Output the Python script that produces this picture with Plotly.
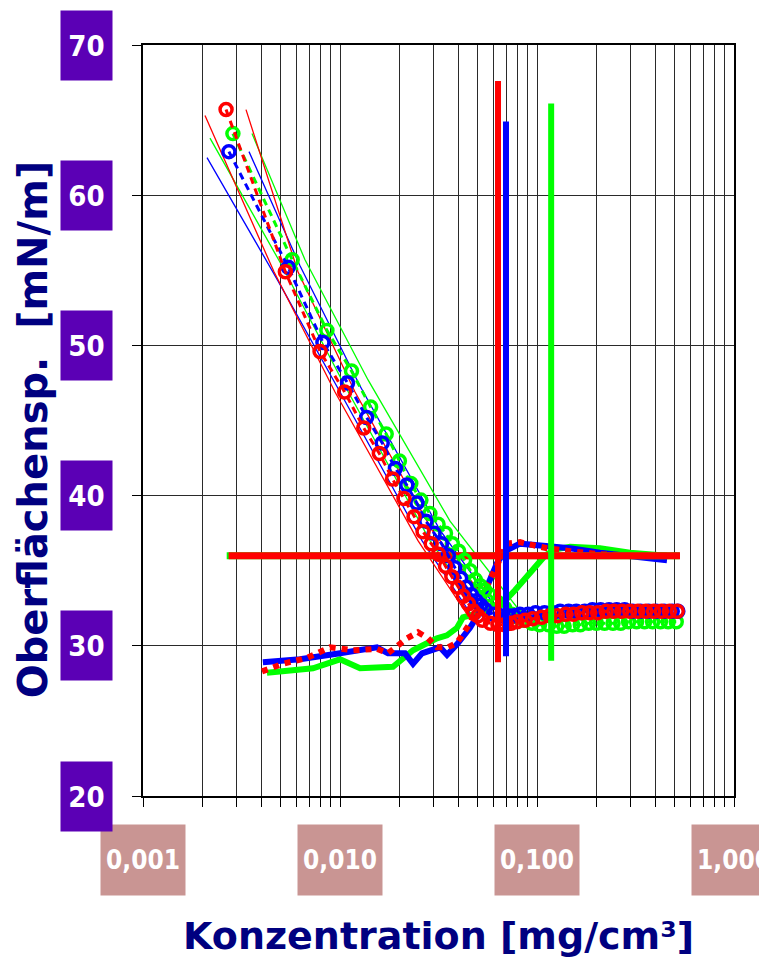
import numpy as np
import plotly.graph_objects as go

# Achsen / Beschriftung
x_ticks = [0.001, 0.01, 0.1, 1.0]
x_tick_text = ["0,001", "0,010", "0,100", "1,000"]
y_ticks = [20, 30, 40, 50, 60, 70]

# Oberflächenspannung (Kreise, gestrichelt verbunden)
c_red = [0.00264, 0.00528, 0.00792, 0.01056, 0.0132, 0.01584, 0.01848, 0.02112, 0.02376, 0.0264,
         0.02904, 0.03168, 0.03432, 0.03696, 0.0396, 0.04224, 0.04488, 0.04752, 0.05016, 0.0528,
         0.05808, 0.06336, 0.06864, 0.07392, 0.0792,
         0.08712, 0.09504, 0.1056, 0.1162, 0.1267, 0.1399, 0.1531, 0.169, 0.1848, 0.2033,
         0.2244, 0.2455, 0.2693, 0.2957, 0.3247, 0.3564, 0.3907, 0.4277, 0.4699, 0.5148]
s_red = [65.7, 54.9, 49.6, 46.9, 44.5, 42.8, 41.1, 39.8, 38.6, 37.6,
         36.8, 36.1, 35.3, 34.6, 33.9, 33.3, 32.8, 32.3, 32.0, 31.7,
         31.5, 31.4, 31.4, 31.5, 31.6,
         31.7, 31.8, 31.9, 32.0, 32.0, 32.1, 32.1, 32.2, 32.2, 32.2,
         32.3, 32.3, 32.3, 32.3, 32.3, 32.3, 32.3, 32.3, 32.3, 32.3]

c_green = [0.00286, 0.00572, 0.00858, 0.01144, 0.0143, 0.01716, 0.02002, 0.02288, 0.02574, 0.0286,
           0.03146, 0.03432, 0.03718, 0.04004, 0.0429, 0.04576, 0.04862, 0.05148, 0.05434, 0.0572,
           0.06292, 0.06864, 0.07436, 0.08008, 0.0858,
           0.09438, 0.103, 0.1144, 0.1258, 0.1373, 0.1516, 0.1659, 0.183, 0.2002, 0.2202,
           0.2431, 0.266, 0.2917, 0.3203, 0.3518, 0.3861, 0.4233, 0.4633, 0.5091]
s_green = [64.1, 55.7, 51.0, 48.3, 45.9, 44.1, 42.3, 40.8, 39.7, 38.8,
           38.1, 37.5, 36.8, 36.3, 35.7, 35.0, 34.4, 34.0, 33.7, 33.4,
           32.9, 32.5, 32.1, 31.9, 31.7,
           31.5, 31.4, 31.4, 31.3, 31.3, 31.4, 31.4, 31.5, 31.5, 31.5,
           31.5, 31.5, 31.6, 31.6, 31.6, 31.6, 31.6, 31.6, 31.6]

c_blue = [0.00273, 0.00546, 0.00819, 0.01092, 0.01365, 0.01638, 0.01911, 0.02184, 0.02457, 0.0273,
          0.03003, 0.03276, 0.03549, 0.03822, 0.04095, 0.04368, 0.04641, 0.04914, 0.05187, 0.0546,
          0.06006, 0.06552, 0.07098, 0.07644, 0.0819,
          0.09009, 0.09828, 0.1092, 0.1201, 0.131, 0.1447, 0.1583, 0.1747, 0.1911, 0.2102,
          0.2321, 0.2539, 0.2785, 0.3058, 0.3358, 0.3686, 0.404, 0.4423, 0.4859, 0.5187]
s_blue = [62.9, 55.2, 50.2, 47.5, 45.2, 43.5, 41.8, 40.7, 39.5, 38.3,
          37.5, 36.8, 36.0, 35.2, 34.5, 33.9, 33.4, 33.0, 32.7, 32.4,
          32.1, 32.0, 32.0, 32.0, 32.1,
          32.1, 32.2, 32.2, 32.2, 32.3, 32.3, 32.3, 32.3, 32.4, 32.4,
          32.4, 32.4, 32.4, 32.3, 32.3, 32.3, 32.3, 32.3, 32.3, 32.3]

# zweite Messreihe (dicke Linien)
c2_blue = [0.00406, 0.006266, 0.0100, 0.01541, 0.01752, 0.02137, 0.02348, 0.02607, 0.03218, 0.03492,
           0.03926, 0.0457, 0.05138, 0.05641, 0.06266, 0.0688, 0.08197, 0.1073, 0.1471, 0.2088,
           0.2966, 0.457]
s2_blue = [28.9, 29.1, 29.5, 29.9, 29.5, 29.5, 28.8, 29.5, 29.9, 29.4,
           30.1, 31.2, 32.3, 34.1, 35.5, 36.3, 36.8, 36.7, 36.5, 36.2,
           36.0, 35.7]

c2_red = [0.004019, 0.005138, 0.0068, 0.008896, 0.01164, 0.01541, 0.01752, 0.0197, 0.02188, 0.02488,
          0.02797, 0.03107, 0.03535, 0.03926, 0.0457, 0.05138, 0.05773, 0.06339, 0.07042, 0.08197,
          0.0954, 0.1124, 0.1471, 0.2088, 0.3333, 0.5138]
s2_red = [28.3, 28.8, 29.2, 29.9, 29.7, 29.8, 29.5, 30.0, 30.5, 30.9,
          30.5, 29.9, 29.9, 30.2, 31.5, 33.0, 34.5, 35.5, 36.8, 36.9,
          36.7, 36.5, 36.3, 36.1, 36.0, 36.0]

c2_green = [0.004259, 0.007293, 0.0100, 0.01264, 0.01858, 0.02089, 0.02348, 0.027, 0.03107, 0.03492,
            0.03926, 0.0421, 0.05138, 0.06118, 0.0688, 0.07731, 0.08694, 0.09768, 0.1098, 0.1234,
            0.1471, 0.2088, 0.2966, 0.457]
s2_green = [28.2, 28.5, 29.1, 28.5, 28.6, 29.2, 29.7, 30.1, 30.5, 30.7,
            31.2, 31.9, 32.2, 32.7, 33.0, 33.7, 34.5, 35.3, 36.0, 36.4,
            36.6, 36.5, 36.2, 36.0]

# Vertrauensbänder (dünne Linien)
band_red_lo_c = [0.002064, 0.004623, 0.009433, 0.02488, 0.04465]
band_red_lo_s = [65.3, 54.9, 46.9, 37.0, 32.0]
band_red_hi_c = [0.003333, 0.006119, 0.01192, 0.0293, 0.05773]
band_red_hi_s = [65.7, 54.9, 46.9, 37.7, 32.7]
band_green_lo_c = [0.002188, 0.005077, 0.0106, 0.02862, 0.05138]
band_green_lo_s = [63.8, 55.3, 47.3, 37.0, 32.2]
band_green_hi_c = [0.003575, 0.006642, 0.01388, 0.03618, 0.08197]
band_green_hi_s = [64.1, 55.7, 47.7, 38.3, 32.3]
band_blue_lo_c = [0.002113, 0.004845, 0.0100, 0.02607, 0.04679]
band_blue_lo_s = [62.5, 54.3, 46.9, 37.0, 32.0]
band_blue_hi_c = [0.003452, 0.006266, 0.01264, 0.03218, 0.06492]
band_blue_hi_s = [62.9, 55.3, 47.3, 37.7, 32.2]

# CMC-Markierungen
cmc_red, cmc_red_s = 0.0634, [28.9, 67.6]
cmc_blue, cmc_blue_s = 0.0696, [29.3, 64.9]
cmc_green, cmc_green_s = 0.118, [29.0, 66.1]
plateau = 36.0
plateau_c = [0.00272, 0.532]
plateau_c_green = [0.00266, 0.53]

RED, GREEN, BLUE = "#ff0000", "#00ff00", "#0000ff"
LABEL_FONT = "Liberation Sans Narrow, DejaVu Sans Condensed, sans-serif"

fig = go.Figure()

# Bänder
for c, s, col in [(band_green_lo_c, band_green_lo_s, GREEN), (band_green_hi_c, band_green_hi_s, GREEN),
                  (band_blue_lo_c, band_blue_lo_s, BLUE), (band_blue_hi_c, band_blue_hi_s, BLUE),
                  (band_red_lo_c, band_red_lo_s, RED), (band_red_hi_c, band_red_hi_s, RED)]:
    fig.add_trace(go.Scatter(x=c, y=s, mode="lines", line=dict(color=col, width=1.3)))

# dicke Linien
fig.add_trace(go.Scatter(x=c2_green, y=s2_green, mode="lines", line=dict(color=GREEN, width=6)))
fig.add_trace(go.Scatter(x=c2_blue, y=s2_blue, mode="lines", line=dict(color=BLUE, width=6)))
fig.add_trace(go.Scatter(x=c2_red, y=s2_red, mode="lines", line=dict(color=RED, width=6, dash="dot")))

# Plateau
fig.add_trace(go.Scatter(x=plateau_c_green, y=[plateau, plateau], mode="lines",
                         line=dict(color=GREEN, width=7)))
fig.add_trace(go.Scatter(x=plateau_c, y=[plateau, plateau], mode="lines",
                         line=dict(color=RED, width=7)))

# Kreise
for c, s, col in [(c_green, s_green, GREEN), (c_blue, s_blue, BLUE), (c_red, s_red, RED)]:
    fig.add_trace(go.Scatter(x=c, y=s, mode="lines+markers",
                             line=dict(color=col, width=3, dash="7px,5px"),
                             marker=dict(symbol="circle-open", size=12, color=col,
                                         line=dict(color=col, width=3.5))))

# CMC-Linien
for xc, ys, col in [(cmc_red, cmc_red_s, RED), (cmc_blue, cmc_blue_s, BLUE), (cmc_green, cmc_green_s, GREEN)]:
    fig.add_trace(go.Scatter(x=[xc, xc], y=ys, mode="lines", line=dict(color=col, width=6)))

ann = []
for v, t in zip(x_ticks, x_tick_text):
    ann.append(dict(x=np.log10(v), xref="x", y=0, yref="paper", yanchor="top", yshift=-28,
                    text="<b>" + t + "</b>", showarrow=False, bgcolor="#c99593",
                    width=84, height=70, borderpad=0,
                    font=dict(family=LABEL_FONT, size=26, color="white")))
for v in y_ticks:
    ann.append(dict(x=0, xref="paper", xanchor="right", xshift=-30, y=v, yref="y",
                    text="<b>" + str(v) + "</b>", showarrow=False, bgcolor="#5b00b5",
                    width=51, height=69, borderpad=0,
                    font=dict(family=LABEL_FONT, size=29, color="white")))
ann.append(dict(x=0.5, xref="paper", y=0, yref="paper", yshift=-140, yanchor="middle",
                text="<b>Konzentration [mg/cm³]</b>", showarrow=False,
                font=dict(family="DejaVu Sans", size=38, color="#000080")))
ann.append(dict(x=0, xref="paper", xshift=-110, xanchor="center", y=0.487, yref="paper",
                yanchor="middle", textangle=-90,
                text="<b>Oberflächensp.\u00a0 [mN/m]</b>", showarrow=False,
                font=dict(family="DejaVu Sans", size=40, color="#000080")))

# die Seite hat 8 px Rand, daher links/oben 8 px weniger
fig.update_layout(
    width=767, height=961,
    margin=dict(l=135, r=41, t=37, b=173),
    paper_bgcolor="white", plot_bgcolor="white",
    showlegend=False,
    annotations=ann,
    xaxis=dict(type="log", range=[-3, 0], dtick="D1", showticklabels=False,
               showgrid=True, gridcolor="#2a2a2a", gridwidth=1,
               ticks="outside", ticklen=9, tickcolor="black",
               showline=True, linecolor="black", linewidth=2, mirror=True, zeroline=False),
    yaxis=dict(range=[20, 70], dtick=10, showticklabels=False,
               showgrid=True, gridcolor="#2a2a2a", gridwidth=1.2,
               ticks="outside", ticklen=9, tickcolor="black",
               showline=True, linecolor="black", linewidth=2, mirror=True, zeroline=False),
)

fig.write_html("out.html")
